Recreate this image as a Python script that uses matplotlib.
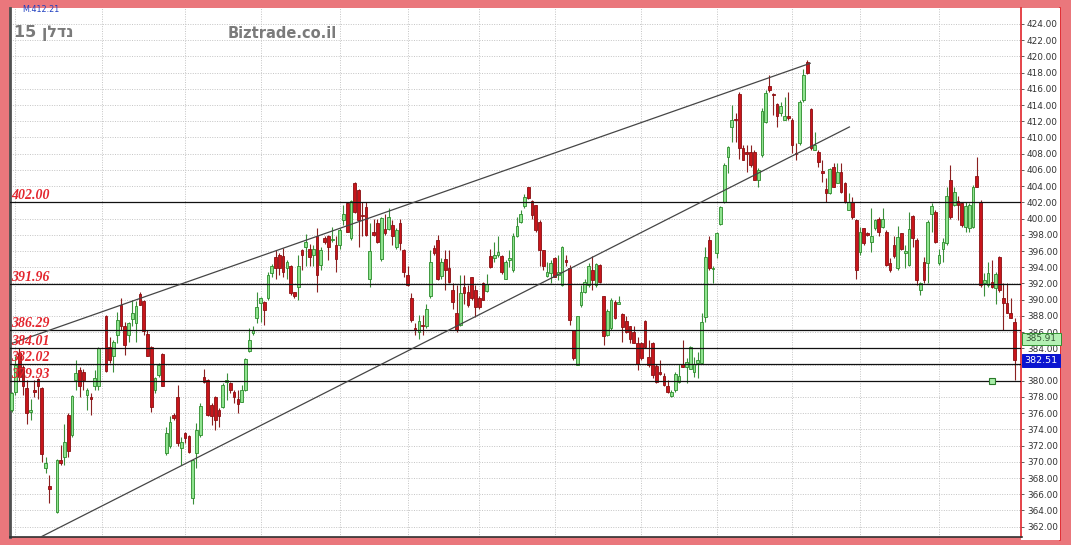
import numpy as np
import matplotlib.pyplot as plt
from matplotlib.patches import Rectangle
from matplotlib.lines import Line2D
from matplotlib.transforms import blended_transform_factory
from matplotlib.ticker import MultipleLocator, FormatStrFormatter

nan = np.nan

# daily candles (nan = no candle in that slot)
opens = [
    376.4, 378.6, 383.4, 381.7, 379.1, 376.2, 378.9, 380.2, 379.1, 369.2,
    367.0, nan, 363.85, 370.2, 370.6, 375.8, 373.3, 380.1, 381.3, 381.1,
    378.25, 378.0, 379.3, 379.3, nan, 388.0, 384.2, 383.0, 385.6, 389.35,
    386.75, 385.6, 387.6, 387.1, 390.7, 389.8, 385.8, 384.2, 378.9, 380.7,
    383.3, 371.05, 371.9, 375.8, 378.0, 371.7, 373.5, 373.2, 365.5, 371.05,
    373.3, 380.5, 380.1, 377.0, 378.0, 376.4, 376.8, 379.9, 379.7, 378.65,
    377.8, 377.4, 378.9, 383.7, 385.85, 387.7, 389.54, 389.75, 390.16, 393.3,
    395.3, 395.5, 395.4, 393.9, 394.1, 390.9, 391.6, 396.1, 396.5, 396.3,
    395.5, 397.8, 394.3, 397.6, 397.8, 397.3, 396.7, 396.7, 399.8, 401.96,
    397.6, 404.4, 403.5, 400.45, 401.4, 392.6, 398.3, 399.4, 394.97, 398.7,
    398.7, 399.2, 396.45, 399.4, 396.1, 393.0, 390.2, 386.5, 386.05, 386.9,
    386.7, 390.4, 396.4, 397.4, 392.9, 394.97, 393.9, 391.2, 388.3, 386.9,
    391.6, 391.0, 392.75, 391.2, 390.2, 392.0, 391.1, 395.4, 395.1, 395.5,
    395.4, 392.6, 394.9, 393.65, 397.8, 399.6, 401.5, 403.85, 402.2, 401.7,
    399.6, 396.1, 392.9, 393.24, 395.1, 393.0, 391.8, 394.9, 393.9, 386.25,
    381.9, 389.3, 390.97, 391.8, 393.65, 391.8, 394.3, 390.45, 385.6, 386.5,
    389.75, 389.5, 388.2, 387.4, 386.7, 386.05, 384.6, 384.7, 387.4, 382.96,
    384.7, 381.8, 381.1, 380.6, 379.35, 378.1, 378.85, 379.9, 382.1, 381.65,
    381.5, 381.1, 382.2, 382.2, 387.9, 397.35, 393.8, 395.7, 399.3, 402.1,
    407.55, 411.25, 412.2, 415.4, 408.65, 408.1, 408.25, 408.25, 404.7, 407.85,
    411.95, 416.35, 415.35, 414.1, 413.0, 412.2, 412.65, 412.15, 408.1, 409.3,
    414.6, 419.35, 413.5, 408.5, 408.25, 405.9, 403.6, 403.1, 406.4, 404.4,
    405.8, 404.4, 401.1, 402.1, 399.8, 395.9, 398.8, 398.25, 397.15, 398.8,
    400.0, 399.0, 398.4, 394.5, 396.7, 393.85, 398.2, 395.7, 394.3, 400.3,
    397.4, 391.2, 394.7, 394.5, 400.6, 400.85, 394.5, 396.3, 396.95, 404.75,
    401.7, 402.2, 401.9, 399.0, 398.8, 399.0, 405.25, 402.1, 392.0, 391.8,
    392.2, 391.4, 395.2, 390.2, 389.6, 388.3, 387.2,
]
highs = [
    378.65, 383.0, 384.0, 382.0, 380.1, 377.8, 380.1, 380.3, 379.2, 370.6,
    368.4, nan, 370.4, 372.1, 374.7, 376.0, 378.2, 382.6, 381.7, 381.5,
    379.1, 378.45, 381.3, 384.2, nan, 388.1, 385.4, 385.0, 388.5, 390.2,
    387.3, 387.3, 390.0, 389.8, 391.0, 390.0, 386.3, 384.3, 380.5, 382.15,
    383.4, 374.3, 375.6, 376.0, 379.5, 373.1, 373.7, 373.3, 370.4, 374.75,
    377.2, 381.4, 380.2, 377.2, 378.1, 376.6, 379.7, 380.9, 379.9, 378.9,
    378.9, 379.5, 382.8, 386.5, 386.7, 391.0, 390.37, 389.8, 393.45, 394.4,
    396.1, 395.7, 396.4, 394.9, 394.3, 391.0, 395.5, 396.3, 398.1, 396.9,
    396.7, 398.8, 396.5, 397.8, 398.0, 399.0, 397.8, 398.8, 401.7, 402.1,
    402.3, 404.55, 403.6, 402.1, 402.1, 399.4, 400.0, 400.0, 400.2, 400.6,
    401.3, 399.8, 398.8, 400.0, 396.3, 394.1, 390.8, 387.1, 388.1, 388.1,
    389.5, 396.1, 396.7, 398.0, 395.1, 396.1, 396.1, 392.0, 391.8, 393.0,
    393.0, 391.8, 392.8, 391.8, 390.4, 392.2, 393.2, 396.3, 397.1, 397.8,
    395.5, 394.9, 396.1, 398.2, 400.2, 401.1, 403.0, 403.9, 402.3, 401.7,
    399.8, 396.1, 394.6, 394.9, 395.2, 395.5, 396.6, 395.5, 394.3, 386.3,
    388.0, 391.8, 392.6, 394.5, 395.4, 394.5, 394.35, 390.5, 388.8, 390.2,
    389.95, 390.4, 388.3, 387.98, 386.7, 386.7, 385.4, 384.8, 387.5, 385.0,
    384.8, 382.1, 382.6, 380.9, 380.1, 378.8, 381.1, 382.1, 385.0, 382.75,
    384.3, 382.96, 383.6, 388.3, 396.45, 397.8, 394.1, 398.4, 401.5, 406.8,
    408.9, 414.0, 413.0, 415.6, 409.1, 409.1, 409.1, 408.45, 406.2, 413.6,
    415.9, 417.7, 415.45, 414.2, 414.4, 415.0, 415.65, 412.4, 409.3, 414.6,
    418.5, 419.55, 413.6, 410.7, 408.45, 407.2, 404.95, 406.2, 406.8, 406.8,
    406.8, 404.55, 403.1, 402.7, 400.0, 399.0, 398.8, 398.4, 401.3, 400.0,
    400.2, 401.3, 398.6, 395.1, 397.8, 399.1, 398.25, 396.7, 400.85, 400.4,
    397.55, 392.2, 395.3, 399.8, 401.9, 401.05, 396.3, 397.55, 403.9, 406.6,
    403.9, 402.8, 402.1, 402.1, 401.9, 404.1, 407.6, 402.3, 393.3, 394.6,
    394.9, 393.45, 395.4, 392.0, 392.0, 390.2, 387.7,
]
lows = [
    376.1, 378.3, 380.0, 378.2, 374.7, 375.2, 378.0, 377.8, 370.0, 368.6,
    364.9, nan, 363.65, 369.6, 369.6, 370.6, 373.1, 378.9, 378.0, 378.9,
    376.4, 375.8, 378.9, 378.9, nan, 381.1, 382.15, 381.1, 384.6, 386.3,
    383.2, 384.8, 386.7, 384.8, 389.3, 385.6, 383.0, 376.2, 378.45, 380.5,
    379.3, 370.8, 371.7, 375.2, 371.9, 369.6, 372.3, 371.05, 364.8, 369.2,
    373.1, 379.7, 375.6, 374.5, 373.9, 374.3, 376.6, 377.6, 378.45, 377.2,
    376.0, 377.4, 378.7, 383.6, 385.6, 387.1, 387.3, 386.9, 389.95, 392.8,
    392.6, 393.0, 392.8, 392.6, 390.6, 390.2, 390.0, 393.7, 394.1, 394.1,
    394.1, 391.0, 393.65, 396.9, 394.9, 397.1, 393.45, 396.3, 399.2, 398.3,
    397.4, 400.7, 396.45, 397.8, 397.8, 391.6, 397.8, 397.0, 394.8, 397.97,
    398.6, 396.7, 396.3, 396.1, 392.8, 391.7, 387.3, 385.6, 385.2, 385.6,
    386.5, 390.2, 395.5, 392.4, 392.6, 391.2, 392.0, 388.9, 386.05, 386.7,
    389.5, 389.1, 390.0, 387.9, 388.9, 389.9, 391.0, 393.9, 394.7, 395.3,
    393.2, 392.5, 394.0, 393.45, 397.7, 399.4, 401.3, 402.4, 400.0, 398.4,
    394.1, 393.65, 392.8, 392.0, 392.75, 392.4, 391.7, 394.1, 386.9, 382.55,
    381.9, 389.1, 390.85, 391.6, 391.2, 391.6, 392.1, 384.4, 385.55, 386.25,
    387.6, 389.45, 384.8, 385.85, 384.7, 384.6, 381.3, 382.55, 384.1, 381.7,
    380.3, 379.7, 380.7, 379.3, 378.45, 377.95, 378.65, 379.7, 381.65, 379.7,
    381.4, 380.5, 380.3, 382.1, 387.3, 393.65, 392.0, 395.1, 399.2, 401.9,
    405.6, 409.5, 409.5, 407.4, 407.2, 405.8, 406.4, 404.7, 403.9, 407.6,
    411.8, 415.65, 412.8, 411.3, 412.6, 412.1, 412.15, 408.05, 407.2, 409.1,
    414.4, 417.8, 408.5, 408.45, 406.4, 404.55, 402.1, 403.0, 403.85, 404.35,
    403.2, 401.9, 401.05, 400.0, 392.6, 395.5, 396.7, 397.8, 395.9, 398.6,
    397.8, 398.8, 394.1, 393.45, 395.1, 393.65, 396.1, 393.85, 394.1, 396.5,
    391.8, 390.6, 392.0, 392.0, 398.4, 397.0, 394.3, 394.7, 396.7, 400.0,
    401.5, 399.8, 399.0, 398.4, 398.3, 398.8, 403.85, 391.6, 390.4, 391.6,
    391.5, 389.5, 391.0, 386.25, 388.3, 387.7, 380.1,
]
closes = [
    378.45, 382.0, 380.5, 379.3, 376.0, 376.4, 378.6, 379.3, 371.0, 369.9,
    366.6, nan, 370.2, 369.8, 372.4, 371.3, 378.1, 381.0, 379.4, 380.1,
    378.9, 377.7, 380.3, 384.0, nan, 381.25, 382.6, 384.8, 387.5, 386.7,
    384.4, 387.1, 388.3, 389.2, 389.35, 386.1, 383.05, 376.8, 380.3, 381.95,
    379.35, 373.5, 374.95, 375.4, 372.3, 372.4, 373.0, 371.25, 370.2, 373.9,
    376.9, 379.9, 375.8, 375.6, 375.2, 375.6, 379.5, 380.1, 378.9, 378.0,
    377.1, 378.9, 382.7, 385.0, 386.3, 389.1, 390.24, 388.7, 393.04, 394.1,
    393.9, 393.9, 393.45, 394.7, 390.8, 390.4, 394.1, 395.5, 397.1, 395.2,
    396.3, 393.0, 396.1, 397.1, 396.45, 397.4, 394.97, 398.6, 400.6, 398.4,
    402.2, 400.85, 399.8, 400.3, 397.97, 396.0, 398.0, 397.15, 400.03, 398.2,
    400.2, 397.8, 398.6, 397.0, 393.45, 391.8, 387.5, 386.25, 387.4, 386.75,
    388.9, 394.7, 395.8, 392.6, 394.7, 393.65, 392.2, 389.75, 386.25, 390.8,
    390.8, 389.3, 390.2, 389.05, 389.05, 389.95, 391.9, 394.0, 395.5, 395.9,
    393.45, 394.7, 395.1, 397.8, 399.1, 400.6, 402.7, 402.5, 400.4, 398.6,
    396.1, 394.1, 393.45, 394.5, 392.8, 393.45, 396.5, 394.7, 387.5, 382.75,
    388.0, 390.97, 392.2, 394.1, 392.4, 394.35, 392.2, 385.5, 388.6, 390.0,
    387.7, 389.75, 386.6, 386.05, 385.2, 384.7, 382.1, 382.75, 384.2, 381.9,
    380.7, 379.9, 380.8, 379.5, 378.65, 378.65, 380.8, 380.6, 381.7, 382.35,
    384.2, 382.1, 382.5, 387.3, 395.2, 393.9, 393.95, 398.2, 401.4, 406.6,
    408.8, 412.2, 412.1, 408.7, 407.2, 408.0, 406.6, 404.75, 405.99, 413.3,
    415.5, 415.8, 415.25, 412.6, 413.9, 412.65, 412.4, 409.1, 407.95, 414.4,
    417.7, 417.9, 408.65, 409.1, 407.0, 405.6, 403.1, 406.1, 403.9, 405.8,
    403.3, 402.1, 402.1, 400.2, 393.65, 398.4, 396.95, 397.97, 397.85, 399.8,
    398.4, 400.0, 394.3, 393.65, 395.4, 397.7, 396.2, 396.05, 398.7, 397.55,
    392.4, 392.0, 392.4, 399.6, 401.6, 397.15, 395.5, 397.15, 402.8, 400.2,
    403.3, 401.7, 399.2, 401.55, 401.7, 403.9, 403.9, 391.8, 392.4, 393.3,
    391.6, 393.2, 391.2, 389.55, 388.4, 387.8, 382.51,
]

levels = [402.00, 391.96, 386.29, 384.01, 382.02, 379.93]
level_labels = ['402.00', '391.96', '386.29', '384.01', '382.02', '379.93']
month_starts = [1, 24, 46, 66, 87, 105, 124, 144, 167, 187, 207, 225, 246]
upper_trend_x = [0, 211.8]
upper_trend_y = [384.6, 419.15]
lower_trend_x = [8.0, 222.2]
lower_trend_y = [360.8, 411.3]
last_close = 382.51
mark_price = 385.91
stop_x, stop_y = 260, 380.0
title_he = 'נדלן'
title_num = '15'
site = 'Biztrade.co.il'
top_note = 'M:412.21'

W, H = 1071, 545
fig = plt.figure(figsize=(W / 100, H / 100), dpi=100)
fig.patch.set_facecolor('#EA777C')

# white price panel on the right
fig.patches.append(Rectangle((1021 / W, 5 / H), 39 / W, 532 / H, transform=fig.transFigure,
                             facecolor='white', edgecolor='none', zorder=-1))
fig.lines.append(Line2D([1060 / W, 1060 / W], [5 / H, 537 / H], transform=fig.transFigure,
                        color='#E0242A', lw=1.2, zorder=-1))

ax = fig.add_axes([10 / W, 8 / H, 1011.5 / W, 529 / H])
ax.set_facecolor('white')
ax.set_xlim(-0.45, 267.85)
ax.set_ylim(360.73, 425.97)

# grid
ax.yaxis.set_major_locator(MultipleLocator(2))
ax.yaxis.set_major_formatter(FormatStrFormatter('%.2f'))
ax.grid(axis='y', color='#c4c4c4', lw=0.7, ls=(0, (1, 1.5)), zorder=0)
for m in month_starts:
    ax.axvline(m, color='#c4c4c4', lw=0.7, ls=(0, (1, 1.5)), zorder=0)
ax.set_xticks([])

# candles
x = np.arange(len(opens))
o, h, l, c = (np.array(v, dtype=float) for v in (opens, highs, lows, closes))
ok = ~np.isnan(c)
up = ok & (c >= o)
dn = ok & (c < o)
styles = [(up, '#8FE38F', '#2B8C2B', '#3A8F3A'), (dn, '#C8151B', '#8A0F12', '#8A2020')]
for mask, fill, edge, wick in styles:
    ax.vlines(x[mask], l[mask], h[mask], color=wick, lw=0.8, zorder=2)
    bottom = np.minimum(o, c)[mask]
    height = np.maximum(np.abs(c - o)[mask], 0.15)
    ax.bar(x[mask], height, 0.72, bottom=bottom, color=fill, edgecolor=edge,
           linewidth=0.6, zorder=3)

# support / resistance levels
trans = blended_transform_factory(ax.transAxes, ax.transData)
for lvl, lbl in zip(levels, level_labels):
    ax.axhline(lvl, color='#111111', lw=0.9, zorder=4)
    ax.annotate(lbl, xy=(0.0015, lvl), xycoords=trans, xytext=(0, 3),
                textcoords='offset pixels', va='baseline', ha='left',
                family='Liberation Serif', fontweight='bold', style='italic',
                fontsize=10, color='#E3262E', zorder=5)

# trend lines
ax.plot(upper_trend_x, upper_trend_y, color='#454545', lw=0.9, zorder=4)
ax.plot(lower_trend_x, lower_trend_y, color='#454545', lw=0.9, zorder=4)

ax.plot(stop_x, stop_y, marker='s', ms=4, mfc='#A8EDA8', mec='#2A7A2A', mew=0.8, zorder=5)

# axes frame
ax.yaxis.tick_right()
ax.tick_params(axis='y', length=2.5, width=0.6, color='#444444', labelsize=6.4,
               labelcolor='#333333', pad=1.5)
ax.spines['top'].set_visible(False)
ax.spines['left'].set_color('#505050')
ax.spines['left'].set_linewidth(2)
ax.spines['bottom'].set_color('#303030')
ax.spines['bottom'].set_linewidth(1.2)
ax.spines['right'].set_color('#E0242A')
ax.spines['right'].set_linewidth(1.2)

# price boxes on the right panel
bt = blended_transform_factory(fig.transFigure, ax.transData)
fig.patches.append(Rectangle((1021.5 / W, mark_price - 1.5), 39 / W, 1.5, transform=bt,
                             facecolor='#B4F0B4', edgecolor='#2F8F2F', lw=0.7, zorder=2))
fig.text(1040.5 / W, mark_price - 0.72, '%.2f' % mark_price, transform=bt, ha='center',
         va='center', fontsize=6.4, color='#335533', zorder=3)
fig.patches.append(Rectangle((1021.5 / W, last_close - 0.8), 38 / W, 1.6, transform=bt,
                             facecolor='#0A14D0', edgecolor='#0A14D0', lw=0.7, zorder=2))
fig.text(1040.5 / W, last_close, '%.2f' % last_close, transform=bt, ha='center',
         va='center', fontsize=6.8, color='white', zorder=3)

# titles
fig.text(14 / W, 1 - 33 / H, title_num + ' ' + title_he[::-1], ha='left', va='center',
         fontsize=11.5, fontweight='bold', color='#7a7a7a', family=['DejaVu Sans'])
fig.text(228 / W, 1 - 33 / H, site, ha='left', va='center', fontsize=10.5,
         fontweight='bold', color='#7b7b7b')
fig.text(22 / W, 1 - 10 / H, top_note, ha='left', va='center', fontsize=5.8,
         color='#2040C0')

fig.savefig('out.png', dpi=100, facecolor=fig.get_facecolor())
